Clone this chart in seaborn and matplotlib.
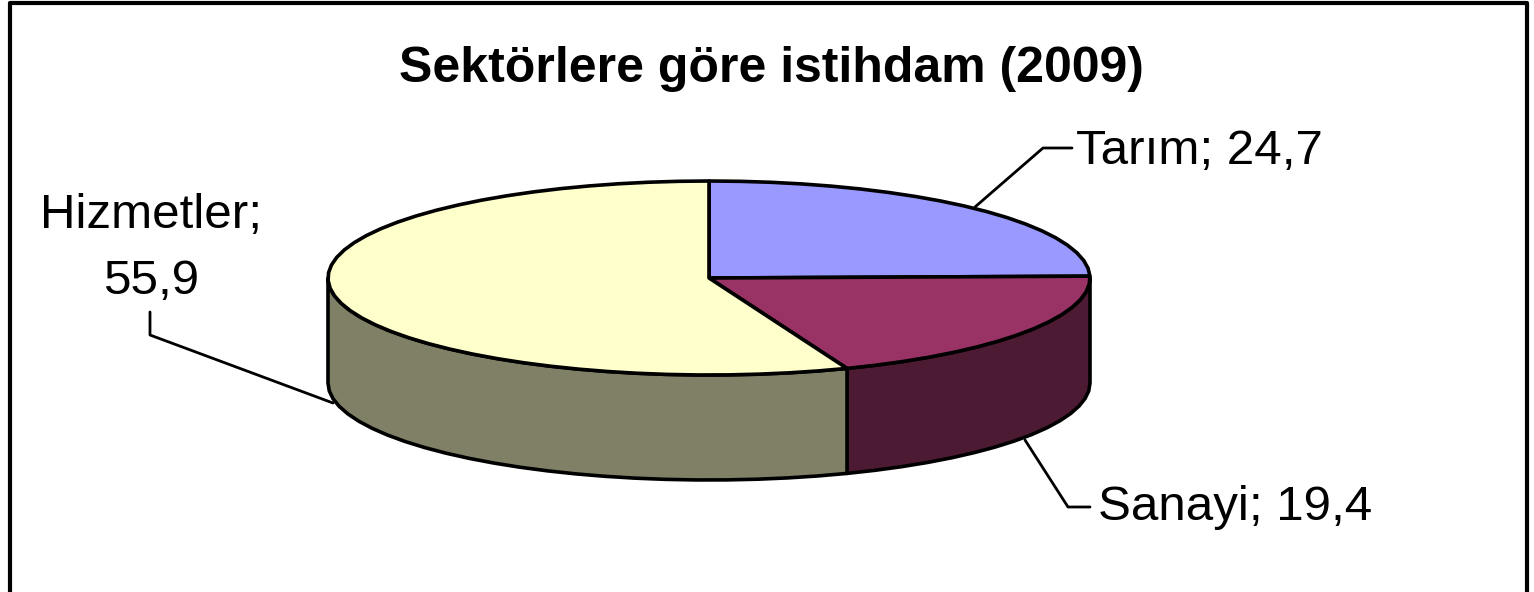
import numpy as np
import matplotlib
matplotlib.use("Agg")
import matplotlib.pyplot as plt
import seaborn as sns

categories = ["Tarım", "Sanayi", "Hizmetler"]
values = [24.7, 19.4, 55.9]
top_colors = ["#9999FF", "#993366", "#FFFFCC"]
side_colors = ["#4D4D80", "#4D1A33", "#808066"]
title = "Sektörlere göre istihdam (2009)"

sns.set_theme(style="white")
plt.rcParams["font.family"] = ["Liberation Sans", "DejaVu Sans"]

fig = plt.figure(figsize=(15.34, 5.92), dpi=100, facecolor="white")
ax = fig.add_axes([0, 0, 1, 1])
ax.set_xlim(0, 1534)
ax.set_ylim(592, 0)
ax.axis("off")

cx, cy, rx, ry, depth = 709, 278, 381, 97, 105
EDGE = dict(edgecolor="black", linewidth=2.6, joinstyle="round")


def rim(a0, a1):
    # the original outline is a coarse polygon, not a smooth ellipse
    n = max(2, int((a1 - a0) / 4.5) + 1)
    t = np.radians(np.linspace(a0, a1, n))
    return cx + rx * np.sin(t), cy - ry * np.cos(t)


# frame
ax.plot([10, 10, 1527, 1527], [600, 3, 3, 600], color="black", lw=3, zorder=1)

shares = np.array(values) / sum(values) * 360
ends = np.cumsum(shares)
starts = ends - shares

# side walls (only the front half, 90..270 degrees, is visible)
for a0, a1, col in zip(starts, ends, side_colors):
    lo, hi = max(a0, 90), min(a1, 270)
    if lo >= hi:
        continue
    x, y = rim(lo, hi)
    ax.fill(np.r_[x, x[::-1]], np.r_[y, y[::-1] + depth], facecolor=col, zorder=2, **EDGE)

# top faces
for a0, a1, col in zip(starts, ends, top_colors):
    x, y = rim(a0, a1)
    ax.fill(np.r_[cx, x], np.r_[cy, y], facecolor=col, zorder=3, **EDGE)

# leader lines
LINE = dict(color="black", lw=2, zorder=4)
ax.plot([975, 1043, 1072], [207, 148, 148], **LINE)
ax.plot([1025, 1068, 1090], [440, 507, 507], **LINE)
ax.plot([333, 150, 150], [403, 335, 312], **LINE)

fs = 35.5
fmt = lambda v: str(v).replace(".", ",")
ax.text(1076, 151, f"{categories[0]}; {fmt(values[0])}", fontsize=fs, va="center", ha="left", color="black")
ax.text(1098, 508, f"{categories[1]}; {fmt(values[1])}", fontsize=fs, va="center", ha="left", color="black")
ax.text(151, 216, f"{categories[2]};", fontsize=fs, va="center", ha="center", color="black")
ax.text(151, 281, fmt(values[2]), fontsize=fs, va="center", ha="center", color="black")
ax.text(771, 69, title, fontsize=36, fontweight="bold", va="center", ha="center", color="black")

fig.savefig("out.png", dpi=100)
